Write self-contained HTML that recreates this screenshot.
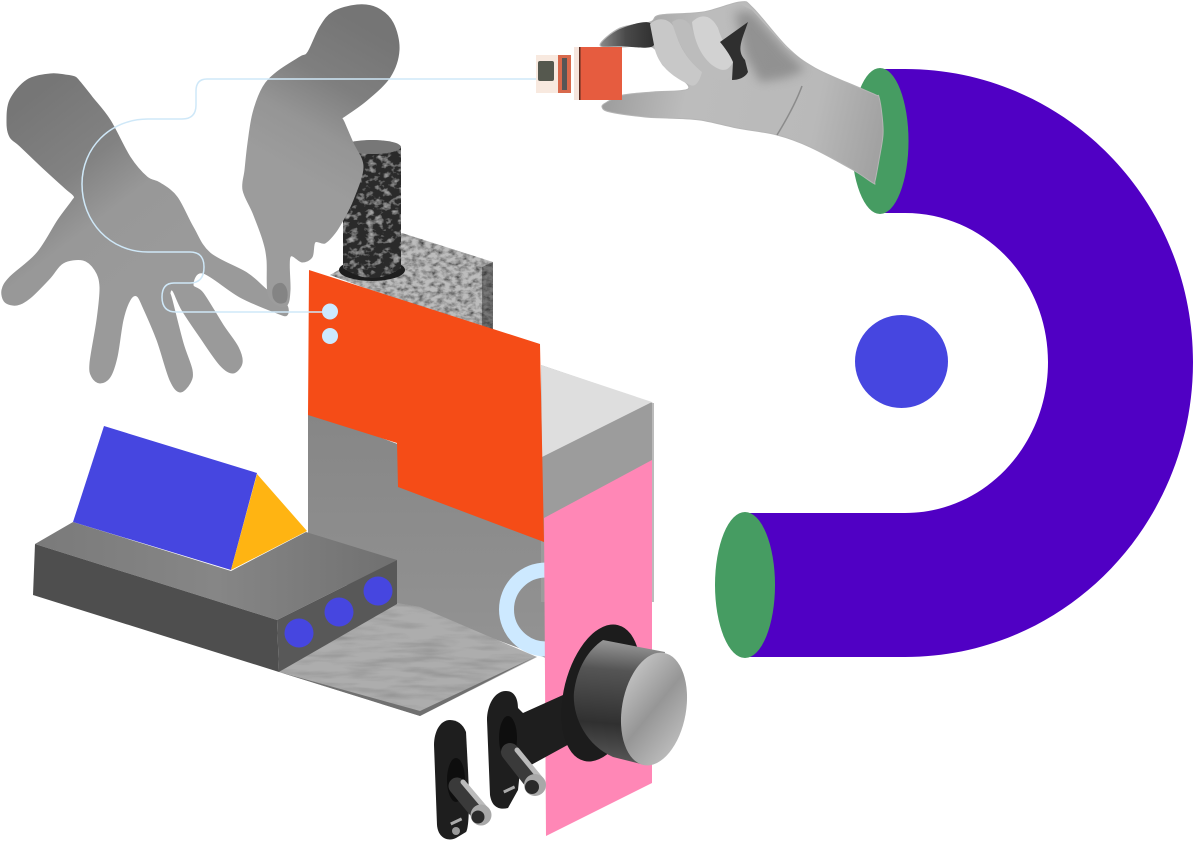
<!DOCTYPE html>
<html><head><meta charset="utf-8"><style>html,body{margin:0;padding:0;background:#fff}svg{display:block}</style></head>
<body>
<svg width="1193" height="843" viewBox="0 0 1193 843" xmlns="http://www.w3.org/2000/svg">
<defs>
<clipPath id="dotclip"><rect x="850" y="310" width="105" height="98"/></clipPath>
<clipPath id="backclip"><polygon points="703,14 740,4 752,10 786,48 814,69 860,89 860,130 760,110 700,60"/></clipPath>
<linearGradient id="wall" x1="0" y1="0" x2="0" y2="1"><stop offset="0" stop-color="#868686"/><stop offset="1" stop-color="#939393"/></linearGradient>
<linearGradient id="top" x1="0" y1="0" x2="1" y2="0"><stop offset="0" stop-color="#7a7a7a"/><stop offset="0.5" stop-color="#868686"/><stop offset="1" stop-color="#707070"/></linearGradient>
<linearGradient id="armL" gradientUnits="userSpaceOnUse" x1="40" y1="90" x2="170" y2="260"><stop offset="0" stop-color="#767676"/><stop offset="0.4" stop-color="#828282"/><stop offset="0.65" stop-color="#989898"/><stop offset="1" stop-color="#9a9a9a"/></linearGradient>
<linearGradient id="armP" gradientUnits="userSpaceOnUse" x1="370" y1="30" x2="290" y2="170"><stop offset="0" stop-color="#757575"/><stop offset="0.4" stop-color="#7f7f7f"/><stop offset="0.7" stop-color="#959595"/><stop offset="1" stop-color="#9c9c9c"/></linearGradient>
<linearGradient id="armR" gradientUnits="userSpaceOnUse" x1="600" y1="80" x2="885" y2="140"><stop offset="0" stop-color="#9a9a9a"/><stop offset="0.3" stop-color="#bcbcbc"/><stop offset="0.75" stop-color="#b9b9b9"/><stop offset="1" stop-color="#a0a0a0"/></linearGradient>
<linearGradient id="indexF" x1="0" y1="0" x2="1" y2="0"><stop offset="0" stop-color="#888"/><stop offset="0.45" stop-color="#4a4a4a"/><stop offset="1" stop-color="#2e2e2e"/></linearGradient>
<linearGradient id="knob" gradientUnits="userSpaceOnUse" x1="620" y1="640" x2="610" y2="760"><stop offset="0" stop-color="#9a9a9a"/><stop offset="0.25" stop-color="#555"/><stop offset="0.7" stop-color="#303030"/><stop offset="1" stop-color="#555"/></linearGradient>
<linearGradient id="face" x1="0" y1="0" x2="1" y2="1"><stop offset="0" stop-color="#cfcfcf"/><stop offset="0.5" stop-color="#969696"/><stop offset="1" stop-color="#c8c8c8"/></linearGradient>
<filter id="soft" x="-20%" y="-20%" width="140%" height="140%"><feGaussianBlur stdDeviation="5"/></filter>
<filter id="stone" x="0" y="0" width="100%" height="100%"><feTurbulence type="fractalNoise" baseFrequency="0.16 0.24" numOctaves="3" seed="4"/><feColorMatrix values="0 0 0 0 0 0 0 0 0 0 0 0 0 0 0 1.7 0 0 0 -0.6"/><feComposite in2="SourceAlpha" operator="in"/><feMerge><feMergeNode in="SourceGraphic"/><feMergeNode/></feMerge></filter>
<filter id="lite" x="0" y="0" width="100%" height="100%"><feTurbulence type="fractalNoise" baseFrequency="0.12 0.16" numOctaves="3" seed="9"/><feColorMatrix values="0 0 0 0 1 0 0 0 0 1 0 0 0 0 1 1.1 0 0 0 -0.55"/><feComposite in2="SourceAlpha" operator="in"/><feMerge><feMergeNode in="SourceGraphic"/><feMergeNode/></feMerge></filter>
<filter id="wood" x="0" y="0" width="100%" height="100%"><feTurbulence type="fractalNoise" baseFrequency="0.02 0.14" numOctaves="3" seed="3"/><feColorMatrix values="0 0 0 0 0.25 0 0 0 0 0.25 0 0 0 0 0.25 1.5 0 0 0 -0.6"/><feComposite in2="SourceAlpha" operator="in"/><feMerge><feMergeNode in="SourceGraphic"/><feMergeNode/></feMerge></filter>
</defs>

<!-- Magnet -->
<path d="M880 69H905C1065 69 1193 200 1193 362C1193 525 1065 657 905 657H745V513H905C985 513 1048 445 1048 362C1048 280 985 213 905 213H880Z" fill="#5000c4"/>
<ellipse cx="880" cy="141" rx="28.500" ry="73" fill="#469c62"/>
<ellipse cx="745" cy="585" rx="30" ry="73" fill="#469c62"/>
<circle cx="901.500" cy="361.500" r="46.500" fill="#4646e0" clip-path="url(#dotclip)"/>

<!-- Right hand -->
<polygon class="smooth" points="600,45 620,28 650,22 660,15 703,12 740,2 753,8 787,47 815,68 860,88 876,95 879,97 882,115 883,135 879,160 875,181 873,183 853,170 810,147 777,135 737,128 700,120 667,118 645,117 610,112 602,107 607,102 623,95 653,92 688,89 677,75 663,65 652,47 620,47" fill="url(#armR)" stroke="#b5b5b5" stroke-width="1" stroke-linejoin="round"/>
<g clip-path="url(#backclip)"><path d="M735 12L752 12L785 50L805 70L785 78L760 82L745 55Z" fill="#777" opacity=".6" filter="url(#soft)"/></g>
<polygon class="smooth" points="601,45 620,29 650,23 653,46 620,46" fill="url(#indexF)"/>
<path d="M650 24C660 15 672 20 675 30C680 50 690 62 702 72C700 80 696 88 690 85C675 78 660 68 655 50Z" fill="#c8c8c8"/>
<path d="M672 22C682 15 690 22 692 30C700 50 715 62 732 72C730 82 722 82 708 76C695 68 680 52 672 22Z" fill="#bcbcbc"/>
<path d="M692 22C702 12 712 16 718 28C722 42 730 52 733 62C728 72 722 72 712 65C700 55 694 40 692 22Z" fill="#d2d2d2"/>
<path d="M720 42L748 22C742 40 736 50 745 60L748 72C745 78 738 80 732 80L733 62C730 55 725 48 720 42Z" fill="#2f2f2f"/>
<path d="M802 86C795 105 785 122 777 135" fill="none" stroke="#777" stroke-width="1.500" opacity=".7"/>

<!-- TV + card -->
<rect x="536" y="55" width="22" height="38" fill="#f8e9df"/>
<rect x="538" y="61" width="16" height="20" rx="2" fill="#55584e"/>
<rect x="558" y="55" width="13" height="38" fill="#d8694c"/>
<rect x="562" y="58" width="5" height="32" fill="#555"/>
<rect x="574" y="47" width="6" height="53" fill="#f6e4dc"/>
<rect x="579" y="47" width="43" height="53" fill="#e65c3f"/>
<rect x="579" y="47" width="1.500" height="53" fill="#5a2b20"/>

<!-- Wall + right box -->
<polygon points="308,410 545,500 546,658 470,630 400,605 308,570" fill="url(#wall)"/>
<polygon points="541,365 653,403 653,602 541,602" fill="#9c9c9c"/>
<polygon points="541,365 652,402 542,457" fill="#dedede"/>
<rect x="652" y="403" width="2" height="199" fill="#bbb"/>

<!-- Stone block + cylinder -->
<polygon points="330,275 402,233 493,262 493,335" fill="#bdbdbd" filter="url(#stone)"/>
<polygon points="482,267 493,262 493,335 482,332" fill="#777" filter="url(#stone)"/>
<ellipse cx="372" cy="270" rx="33" ry="11" fill="#1e1e1e"/>
<path d="M343 147Q372 133 401 147V268Q372 288 343 268Z" fill="#2c2c2c" filter="url(#lite)"/>
<ellipse cx="372" cy="147" rx="29" ry="7" fill="#777"/>

<!-- Orange -->
<polygon points="309,270 540,344 544,542 398,487 397,443 308,415" fill="#f54c17"/>

<!-- Ring -->
<circle cx="546" cy="609.500" r="39.500" fill="none" stroke="#cde9ff" stroke-width="15"/>

<!-- Wood floor -->
<polygon points="279,672 397,603 420,607 537,657 420,716" fill="#adadad" filter="url(#wood)"/>
<polygon points="279,672 420,711 537,656 420,716" fill="#707070"/>

<!-- Block -->
<polygon points="35,544 73,522 231,571 306,532 397,560 277,620" fill="url(#top)"/>
<polygon points="35,544 277,620 279,672 33,595" fill="#4e4e4e"/>
<polygon points="277,620 397,560 397,604 279,672" fill="#585858"/>
<circle cx="299" cy="633" r="14.500" fill="#4646e0"/>
<circle cx="339" cy="612" r="14.500" fill="#4646e0"/>
<circle cx="378" cy="591" r="14.500" fill="#4646e0"/>

<!-- Prism -->
<polygon points="104,426 257,473 231,570 73,522" fill="#4646e0"/>
<polygon points="257,474 307,531 231,570" fill="#ffb412"/>

<!-- Pink -->
<polygon points="544,518 652,460 652,783 546,836" fill="#ff87b6"/>

<!-- Lock: plates and pins -->
<path d="M450 720C440 720 434 732 434 745L437 825C438 838 448 842 456 838L466 832C470 826 469 790 468 770L466 732C463 724 457 720 450 720Z" fill="#1e1e1e"/>
<path d="M506 691C494 691 487 706 487 720L490 795C492 808 500 810 508 808L518 790L520 771L573 742L563 695L523 713L518 708C518 698 514 691 506 691Z" fill="#1e1e1e"/>
<ellipse cx="456" cy="780" rx="9" ry="22" fill="#0e0e0e"/>
<ellipse cx="508" cy="738" rx="9" ry="22" fill="#0e0e0e"/>
<path d="M457 786L481 815" stroke="#3a3a3a" stroke-width="17" stroke-linecap="round"/>
<path d="M463 782L485 808" stroke="#bbb" stroke-width="5" stroke-linecap="round"/>
<circle cx="481" cy="815" r="10.500" fill="#a8a8a8"/><circle cx="478" cy="817" r="6.500" fill="#2a2a2a"/>
<path d="M510 752L535 784" stroke="#3a3a3a" stroke-width="18" stroke-linecap="round"/>
<path d="M517 750L540 778" stroke="#bbb" stroke-width="5" stroke-linecap="round"/>
<circle cx="535" cy="785" r="11" fill="#a8a8a8"/><circle cx="532" cy="787" r="7" fill="#2a2a2a"/>
<rect x="450" y="820" width="12" height="3" fill="#aaa" transform="rotate(-25 456 821)"/>
<rect x="503" y="788" width="12" height="3" fill="#aaa" transform="rotate(-25 509 789)"/>
<circle cx="456" cy="831" r="4" fill="#999"/>

<!-- Knob -->
<ellipse cx="601" cy="693" rx="37" ry="70" transform="rotate(14 601 693)" fill="#1c1c1c"/>
<path d="M603 640L665 652L645 765L613 757C585 745 572 715 574 692C577 668 588 650 603 640Z" fill="url(#knob)"/>
<ellipse cx="654" cy="709" rx="32" ry="57" transform="rotate(10 654 709)" fill="url(#face)"/>

<!-- Left hand -->
<polygon class="smooth" points="75,77 65,75 50,74 27,80 10,100 7,123 10,137 20,146 42,167 65,188 74,196 72,201 58,220 37,253 10,277 2,290 5,302 17,305 30,298 50,278 63,263 83,260 95,270 100,287 97,320 90,363 92,377 100,383 110,377 117,357 123,320 130,300 137,296 143,307 157,340 170,380 180,392 190,383 192,370 183,343 172,300 170,293 173,291 182,310 200,337 220,365 233,373 242,363 238,347 223,325 203,293 193,285 203,273 240,297 277,313 287,315 286,304 267,290 247,273 210,253 193,227 177,197 160,183 147,177 130,157 110,120 92,97 80,82" fill="url(#armL)" stroke="url(#armL)" stroke-width="1" stroke-linejoin="round"/>

<!-- Pointing hand -->
<polygon class="smooth" points="357,5 333,12 320,27 308,52 300,57 277,72 263,87 253,113 248,143 245,170 243,190 253,213 263,240 267,260 268,293 277,305 287,305 290,290 290,257 302,262 312,257 315,242 325,243 335,233 343,220 353,200 363,167 353,143 344,122 342,118 345,116 367,100 390,77 399,50 393,23 377,8" fill="url(#armP)" stroke="url(#armP)" stroke-width="1" stroke-linejoin="round"/>
<path d="M273 298C270 287 276 282 282 283C288 286 289 296 286 302C281 305 276 304 273 298Z" fill="#848484"/>

<!-- Connector -->
<path d="M536 79H207Q196 79 196 91V105Q196 119 182 119H148C110 119 82 148 82 184C82 222 110 252 148 252H190Q204 252 204 267Q204 283 190 283H174Q162 283 162 297Q162 312 176 312H330" fill="none" stroke="#cfe8f8" stroke-width="1.500"/>
<circle cx="330" cy="311.500" r="8" fill="#cde9ff"/>
<circle cx="330" cy="336" r="8" fill="#cde9ff"/>
</svg>
<script>
document.querySelectorAll('polygon.smooth').forEach(function(g){
  var n=g.getAttribute('points').trim().split(/\s+/).map(function(s){return s.split(',').map(Number)}),L=n.length;
  var d='M'+n[0][0]+' '+n[0][1];
  for(var i=0;i<L;i++){
    var a=n[(i-1+L)%L],b=n[i],c=n[(i+1)%L],e=n[(i+2)%L];
    d+='C'+(b[0]+(c[0]-a[0])/6)+' '+(b[1]+(c[1]-a[1])/6)+' '+(c[0]-(e[0]-b[0])/6)+' '+(c[1]-(e[1]-b[1])/6)+' '+c[0]+' '+c[1];
  }
  var p=document.createElementNS('http://www.w3.org/2000/svg','path');
  ['fill','stroke','stroke-width','stroke-linejoin'].forEach(function(k){if(g.hasAttribute(k))p.setAttribute(k,g.getAttribute(k))});
  p.setAttribute('d',d+'Z');
  g.parentNode.replaceChild(p,g);
});
</script>
</body></html>
